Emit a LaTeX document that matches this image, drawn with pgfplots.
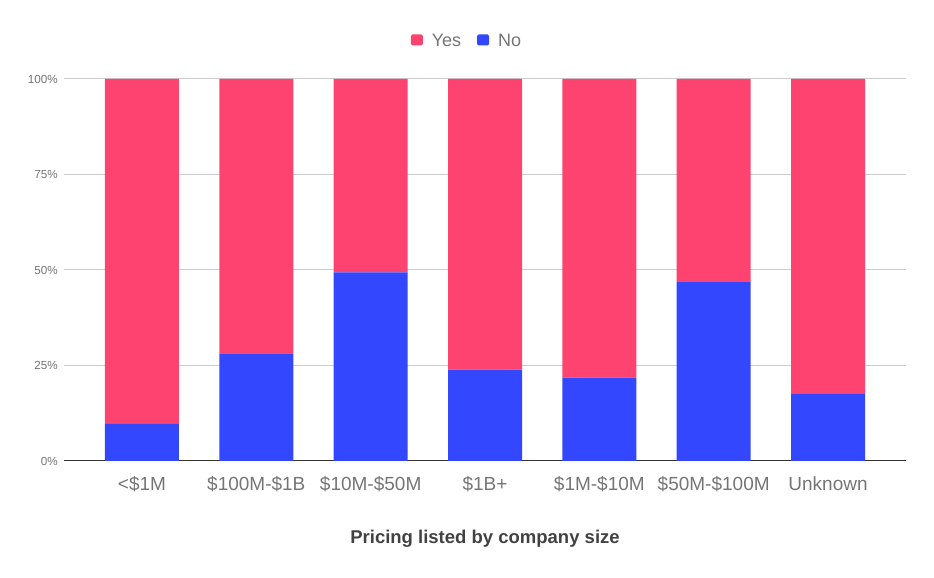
\documentclass[border=0pt]{standalone}
\usepackage{pgfplots}
\pgfplotsset{compat=1.18}
\usepackage{fontspec}
\setmainfont{Liberation Sans}
\definecolor{yescol}{RGB}{255,67,112}
\definecolor{nocol}{RGB}{51,71,255}
\definecolor{txtgray}{RGB}{117,117,117}
\definecolor{titlegray}{RGB}{66,66,66}
\definecolor{gridgray}{RGB}{204,204,204}
\definecolor{axisdark}{RGB}{51,51,51}
\begin{document}
\begin{tikzpicture}
\path[use as bounding box] (0,0) rectangle (934pt,578pt);
\begin{axis}[
  at={(64pt,117pt)}, anchor=south west,
  scale only axis, width=842pt, height=382pt,
  ybar stacked, bar width=74pt,
  xmin=-0.682, xmax=6.682, ymin=0, ymax=100,
  xtick={0,1,2,3,4,5,6},
  xticklabels={<\$1M,\$100M-\$1B,\$10M-\$50M,\$1B+,\$1M-\$10M,\$50M-\$100M,Unknown},
  ytick={0,25,50,75,100},
  /pgf/number format/assume math mode=true,
  yticklabel={\pgfmathprintnumber{\tick}\%},
  major tick length=0pt,
  ymajorgrids, grid style={gridgray, line width=1pt},
  axis x line*=bottom, axis y line*=left,
  x axis line style={axisdark, line width=1pt},
  y axis line style={draw=none},
  xticklabel style={font=\fontsize{19}{22}\selectfont, text=txtgray, anchor=base, yshift=-30pt},
  yticklabel style={font=\fontsize{11.7}{14}\selectfont, text=txtgray, anchor=east, inner sep=0pt, xshift=-6pt},
  xlabel={Pricing listed by company size},
  xlabel style={at={(axis description cs:0.5,0)}, anchor=base, yshift=-82pt, font=\bfseries\fontsize{18.5}{22}\selectfont, text=titlegray},
  legend columns=2,
  reverse legend,
  legend style={at={(0.4786,1.0995)}, anchor=center, draw=none, fill=none,
    font=\fontsize{18}{22}\selectfont, text=txtgray,
    /tikz/every odd column/.append style={column sep=7pt},
    /tikz/every even column/.append style={column sep=14pt}},
  legend image code/.code={\fill[#1, rounded corners=1.5pt] (0pt,-4.5pt) rectangle (12pt,6.5pt);},
]
\addplot[fill=nocol, draw=none] coordinates {(0,9.7) (1,28.0) (2,49.4) (3,23.9) (4,21.8) (5,47.0) (6,17.6)};
\addplot[fill=yescol, draw=none] coordinates {(0,90.3) (1,72.0) (2,50.6) (3,76.1) (4,78.2) (5,53.0) (6,82.4)};
\legend{No,Yes}
\end{axis}
\end{tikzpicture}
\end{document}
